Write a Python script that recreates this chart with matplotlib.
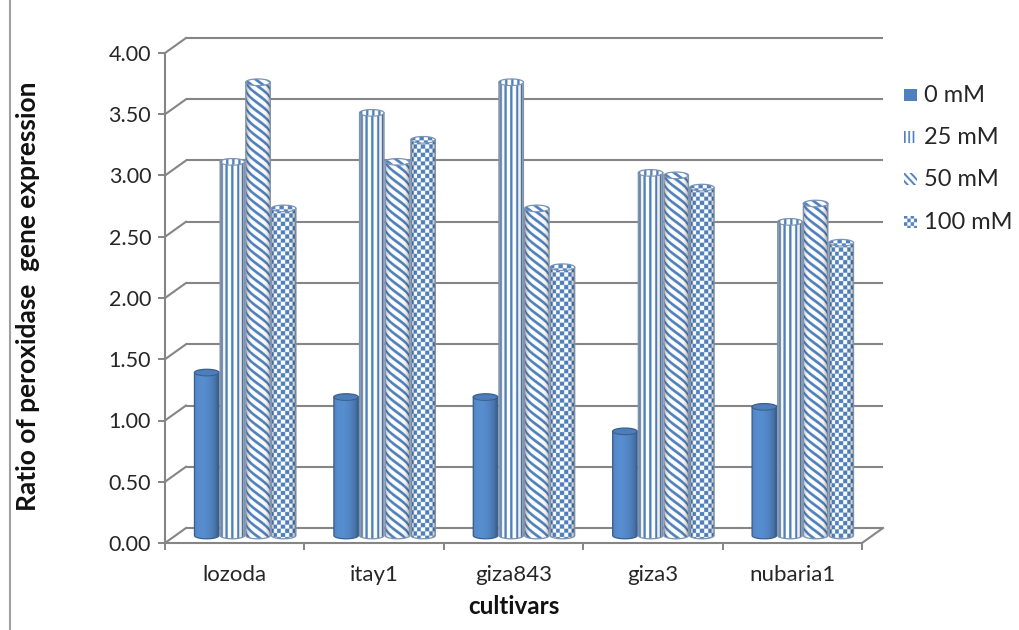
import numpy as np
import matplotlib
matplotlib.use("Agg")
import matplotlib.pyplot as plt
from matplotlib.patches import Polygon
from matplotlib.lines import Line2D

# ---- data -------------------------------------------------------------
cultivars = ["lozoda", "itay1", "giza843", "giza3", "nubaria1"]
series_labels = ["0 mM", "25 mM", "50 mM", "100 mM"]
expr_0mM = [1.33, 1.13, 1.13, 0.85, 1.05]
expr_25mM = [3.05, 3.45, 3.70, 2.96, 2.56]
expr_50mM = [3.70, 3.05, 2.67, 2.94, 2.71]
expr_100mM = [2.67, 3.23, 2.19, 2.84, 2.39]
y_ticks = [0.0, 0.5, 1.0, 1.5, 2.0, 2.5, 3.0, 3.5, 4.0]
y_ticklabels = [f"{t:.2f}" for t in y_ticks]

series_values = [expr_0mM, expr_25mM, expr_50mM, expr_100mM]
patterns = ["solid", "vstripe", "diag", "check"]

# ---- style ------------------------------------------------------------
FONT = ["Lato", "DejaVu Sans"]
plt.rcParams["font.family"] = FONT
BLUE = np.array([0.31, 0.506, 0.741])
WHITE = np.array([1.0, 1.0, 1.0])
GRID = "#858585"
TEXT = "#262626"

W_FIG, H_FIG, DPI = 1020, 630, 100
fig = plt.figure(figsize=(W_FIG / DPI, H_FIG / DPI), dpi=DPI)

# plot box in pixels: front plane + depth offset of the back wall
LEFT, RIGHT, BOTTOM, TOP = 165, 883, 543, 38
DEPTH_PX = (21, 15)
ax = fig.add_axes([LEFT / W_FIG, (H_FIG - BOTTOM) / H_FIG,
                   (RIGHT - LEFT) / W_FIG, (BOTTOM - TOP) / H_FIG])
n_cat = len(cultivars)
y_max = y_ticks[-1]
front_w = RIGHT - LEFT - DEPTH_PX[0]
sx = front_w / n_cat
sy = (BOTTOM - TOP - DEPTH_PX[1]) / y_max
dx = DEPTH_PX[0] / sx
dy = DEPTH_PX[1] / sy
ax.set_xlim(0, n_cat + dx)
ax.set_ylim(0, y_max + dy)
ax.patch.set_visible(False)

# ---- walls and floor --------------------------------------------------
for v in y_ticks:
    ax.plot([dx, n_cat + dx], [v + dy, v + dy], color=GRID, lw=1.5,
            zorder=1, clip_on=False, solid_capstyle="butt")
    ax.plot([0, dx], [v, v + dy], color=GRID, lw=1.5, zorder=1, clip_on=False)
ax.plot([n_cat, n_cat + dx], [0, dy], color=GRID, lw=1.5, zorder=1, clip_on=False)

for side in ["top", "right"]:
    ax.spines[side].set_visible(False)
for side in ["left", "bottom"]:
    ax.spines[side].set_color(GRID)
    ax.spines[side].set_linewidth(1.5)
ax.spines["left"].set_bounds(0, y_max)
ax.spines["bottom"].set_bounds(0, n_cat)

ax.set_yticks(y_ticks, y_ticklabels)
ax.set_xticks(np.arange(n_cat + 1), [""] * (n_cat + 1))
ax.set_xticks(np.arange(n_cat) + 0.5, cultivars, minor=True)
ax.tick_params(axis="y", direction="out", length=5, width=1.4, color=GRID,
               labelsize=15.5, labelcolor=TEXT, pad=5)
ax.tick_params(axis="x", which="major", direction="out", length=5, width=1.4,
               color=GRID)
ax.tick_params(axis="x", which="minor", length=0, labelsize=16,
               labelcolor=TEXT, pad=16)


# ---- cylinder textures ------------------------------------------------
def pattern_mask(kind, s, t):
    if kind == "solid":
        return np.ones_like(s)
    if kind == "vstripe":
        return ((s % 6.0) < 2.4).astype(float)
    if kind == "diag":
        return (((t - 0.75 * s) % 8.5) < 3.4).astype(float)
    return (((np.floor(s / 4.2) + np.floor(t / 4.2)) % 2) == 0).astype(float)


def cylinder_texture(kind, wpx, hpx, cap_px, ss=3):
    nx = max(int(round(wpx * ss)), 2)
    ny = max(int(round(hpx * ss)), 2)
    u = (np.arange(nx) + 0.5) / ss
    v = (np.arange(ny) + 0.5) / ss
    U, V = np.meshgrid(u, v)
    xn = np.clip(U / wpx * 2 - 1, -0.999, 0.999)
    theta = np.arcsin(xn)
    arc = (theta + np.pi / 2) * wpx / 2
    rim = cap_px + cap_px * np.sqrt(1 - xn ** 2)
    top = V < rim
    s = np.where(top, U, arc)
    m = pattern_mask(kind, s, V)[..., None]
    col = BLUE * m + WHITE * (1 - m)
    if kind == "solid":
        lam = np.clip(np.cos(theta + 0.45), 0, 1)
        shade = 0.74 + 0.36 * lam ** 0.8
        shade = np.where(top, 0.98, shade)
    else:
        edge = np.clip((np.abs(xn) - 0.55) / 0.45, 0, 1) ** 1.6
        shade = 1.0 - 0.32 * edge - 0.06 * np.clip(xn, 0, 1)
        shade = np.where(top, 1.0, shade)
    return np.clip(col * shade[..., None], 0, 1)


BAR_SLOT = 0.184
BAR_W = 0.176
CAP = 3.3 / sy
group_center = np.arange(n_cat) + 0.5 + dx / 2

z = 3.0
for i, (vals, kind) in enumerate(zip(series_values, patterns)):
    xs = group_center + (i - 1.5) * BAR_SLOT
    bars = ax.bar(xs, vals, width=BAR_W, bottom=dy / 2, color=BLUE,
                  linewidth=0, zorder=z)
    edge_col = "#3a5f8f" if kind == "solid" else "#7d93b3"
    for rect in bars:
        x0, w = rect.get_x(), rect.get_width()
        y0, h = rect.get_y(), rect.get_height()
        cx, a, y1 = x0 + w / 2, w / 2, y0 + h
        t1 = np.linspace(np.pi, 2 * np.pi, 48)
        t2 = np.linspace(0, np.pi, 48)
        lower = np.column_stack([cx + a * np.cos(t1), y0 + CAP * np.sin(t1)])
        upper = np.column_stack([cx + a * np.cos(t2), y1 + CAP * np.sin(t2)])
        outline = np.vstack([lower, upper])
        z += 0.01
        sil = Polygon(outline, closed=True, facecolor="none",
                      edgecolor=edge_col, lw=0.9, zorder=z + 0.004)
        ax.add_patch(sil)
        tex = cylinder_texture(kind, w * sx, (h + 2 * CAP) * sy, CAP * sy)
        im = ax.imshow(tex, extent=(cx - a, cx + a, y0 - CAP, y1 + CAP),
                       origin="upper", aspect="auto", interpolation="antialiased",
                       zorder=z + 0.002)
        im.set_clip_path(sil)
        rim = np.column_stack([cx + a * np.cos(t1), y1 + CAP * np.sin(t1)])
        ax.plot(rim[:, 0], rim[:, 1], color=edge_col, lw=0.8, zorder=z + 0.005)
ax.set_xlim(0, n_cat + dx)
ax.set_ylim(0, y_max + dy)

# ---- axis titles ------------------------------------------------------
fig.text((LEFT + LEFT + front_w) / 2 / W_FIG, 1 - 607 / H_FIG, "cultivars",
         ha="center", va="center", fontsize=17.5, fontweight="bold", color="#111111")
fig.text(28 / W_FIG, 1 - 296 / H_FIG, "Ratio of peroxidase  gene expression",
         rotation=90, ha="center", va="center", fontsize=19,
         fontweight="bold", color="#111111")

# ---- legend -----------------------------------------------------------
key_rows = [95, 137, 179, 222]
for label, kind, yc in zip(series_labels, patterns, key_rows):
    kax = fig.add_axes([904 / W_FIG, (H_FIG - yc - 6) / H_FIG, 13 / W_FIG, 12 / H_FIG])
    kw, kh = 13, 12
    uu, vv = np.meshgrid(np.arange(kw * 3) / 3 + 0.17, np.arange(kh * 3) / 3 + 0.17)
    if kind == "vstripe":
        m = ((uu % 4.4) < 1.7).astype(float)
    elif kind == "diag":
        m = (((vv - uu) % 7.0) < 2.4).astype(float)
    elif kind == "check":
        m = (((np.floor(uu / 3.3) + np.floor(vv / 3.3)) % 2) == 0).astype(float)
    else:
        m = np.ones_like(uu)
    kimg = BLUE * m[..., None] + WHITE * (1 - m[..., None])
    kax.imshow(kimg, aspect="auto", interpolation="antialiased")
    kax.axis("off")
    fig.text(924 / W_FIG, 1 - yc / H_FIG, label, ha="left", va="center",
             fontsize=17, color=TEXT)

# frame line at the left edge of the picture
fig.add_artist(Line2D([10 / W_FIG, 10 / W_FIG], [0, 1], transform=fig.transFigure,
                      color="#a0a0a0", lw=1.5))

fig.savefig("out.png", dpi=DPI, facecolor="white")
